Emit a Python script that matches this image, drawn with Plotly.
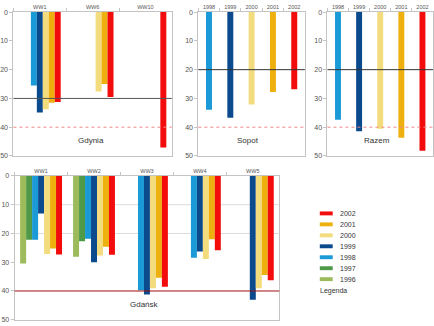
import plotly.graph_objects as go

# ---- data ----
series = ["1996", "1997", "1998", "1999", "2000", "2001", "2002"]
colors = ["#9dbb5b", "#4e9a49", "#1a9ad6", "#0b4a8c", "#f3dc7e", "#eeb00f", "#f20c0c"]

gdynia_cats = ["WW1", "WW6", "WW10"]
gdynia_vals = [
    [None, None, None],   # 1996
    [None, None, None],   # 1997
    [25.5, None, None],   # 1998
    [34.9, None, None],   # 1999
    [33.8, 27.6, None],   # 2000
    [31.5, 25.0, None],   # 2001
    [31.2, 29.5, 47.1],   # 2002
]

year_cats = ["1998", "1999", "2000", "2001", "2002"]
sopot_vals = [33.9, 36.7, 32.1, 27.8, 26.8]
razem_vals = [37.4, 41.4, 40.5, 43.7, 48.2]

gdansk_cats = ["WW1", "WW2", "WW3", "WW4", "WW5"]
gdansk_vals = [
    [30.4, 28.1, None, None, None],   # 1996
    [22.2, 22.7, None, None, None],   # 1997
    [22.2, 21.8, 39.7, 28.4, None],   # 1998
    [13.1, 30.0, 41.2, 26.3, 43.0],   # 1999
    [27.1, 27.7, 39.0, 28.9, 39.0],   # 2000
    [25.2, 24.6, 35.4, 22.0, 34.4],   # 2001
    [27.3, 27.4, 38.5, 25.8, 36.3],   # 2002
]

titles = ["Gdynia", "Sopot", "Razem", "Gdańsk"]
yticks = [0, 10, 20, 30, 40, 50]

W, H = 434, 326
FONT = "Liberation Sans, Arial, sans-serif"

fig = go.Figure()

slot_w = 0.113
slot_start = -slot_w * len(series) / 2

# grouped panels
for axn, cats, vals in [("", gdynia_cats, gdynia_vals), ("4", gdansk_cats, gdansk_vals)]:
    for i, (s, c) in enumerate(zip(series, colors)):
        fig.add_trace(go.Bar(
            x=cats, y=vals[i], name=s, marker_color=c, marker_line_width=0,
            width=slot_w, offset=slot_start + i * slot_w,
            xaxis="x" + axn, yaxis="y" + axn, showlegend=False,
        ))

# single-bar-per-year panels
for axn, vals in [("2", sopot_vals), ("3", razem_vals)]:
    for j, yr in enumerate(year_cats):
        si = series.index(yr)
        fig.add_trace(go.Bar(
            x=[yr], y=[vals[j]], name=yr, marker_color=colors[si], marker_line_width=0,
            width=0.28, offset=-0.14,
            xaxis="x" + axn, yaxis="y" + axn, showlegend=False,
        ))

def px_x(p):
    return p / W

def px_y(p):
    return 1 - p / H

domains = {
    "": ([px_x(10.5), px_x(170)], [px_y(155.3), px_y(8.3)]),
    "2": ([px_x(196.7), px_x(304)], [px_y(155.3), px_y(8.3)]),
    "3": ([px_x(326.7), px_x(433)], [px_y(155.3), px_y(8.3)]),
    "4": ([px_x(11.7), px_x(278.2)], [px_y(322.7), px_y(175.7)]),
}

axcol = "#c4c4c4"
layout = dict(
    width=W, height=H,
    margin=dict(l=0, r=0, t=0, b=0),
    paper_bgcolor="white", plot_bgcolor="white",
    barmode="group",
    showlegend=False,
    font=dict(family=FONT, size=7, color="#444"),
)
for axn, (xd, yd) in domains.items():
    layout["xaxis" + axn] = dict(
        domain=xd, anchor="y" + axn, side="top", type="category",
        showline=True, linecolor=axcol, linewidth=1, mirror=True,
        ticks="outside", ticklen=3, tickcolor=axcol, tickson="boundaries",
        showgrid=False, tickangle=0, tickfont=dict(size=5.5, color="#555"),
    )
    layout["yaxis" + axn] = dict(
        domain=yd, anchor="x" + axn, range=[50, 0],
        tickvals=yticks, showline=True, linecolor=axcol, linewidth=1, mirror=True,
        ticks="outside", ticklen=3, tickcolor=axcol, showgrid=False, zeroline=False,
        tickfont=dict(size=7, color="#555"),
    )
fig.update_layout(**layout)

# reference lines
def hline(axn, yv, color, dash="solid", width=1):
    fig.add_shape(type="line", xref=("x" + axn + " domain"), yref=("y" + axn),
                  x0=0, x1=1, y0=yv, y1=yv, line=dict(color=color, width=width, dash=dash),
                  layer="above")

for yv in [10, 20]:
    fig.add_shape(type="line", xref="x4 domain", yref="y4", x0=0, x1=1, y0=yv, y1=yv,
                  line=dict(color="#dcdcdc", width=1), layer="below")
hline("", 30, "#555555")
hline("", 40, "#ee8888", "dot")
hline("2", 20, "#333333")
hline("2", 40, "#ee8888", "dot")
hline("3", 20, "#333333")
hline("3", 40, "#ee8888", "dot")
hline("4", 40, "#a01010")

# panel titles
for axn, t, xf in [("", titles[0], 0.49), ("2", titles[1], 0.47), ("3", titles[2], 0.47), ("4", titles[3], 0.49)]:
    fig.add_annotation(text=t, xref="x" + axn + " domain", yref="y" + axn,
                       x=xf, y=44.7, showarrow=False, font=dict(size=8, color="#333"))

# legend (compact, built from the series lists)
leg_top = 214
leg_step = 11.2
for k, (s, c) in enumerate(zip(series[::-1], colors[::-1])):
    yc = leg_top + k * leg_step
    fig.add_shape(type="rect", xref="paper", yref="paper",
                  x0=px_x(319), x1=px_x(332), y0=px_y(yc + 2), y1=px_y(yc - 2),
                  fillcolor=c, line=dict(width=0))
    fig.add_annotation(text=s, xref="paper", yref="paper", x=px_x(337), y=px_y(yc),
                       xanchor="left", yanchor="middle", showarrow=False,
                       font=dict(size=7, color="#333"))
fig.add_annotation(text="Legenda", xref="paper", yref="paper", x=px_x(333),
                   y=px_y(leg_top + 7 * leg_step + 0.5), xanchor="center", yanchor="middle",
                   showarrow=False, font=dict(size=7, color="#333"))

fig.write_html("out.html")
